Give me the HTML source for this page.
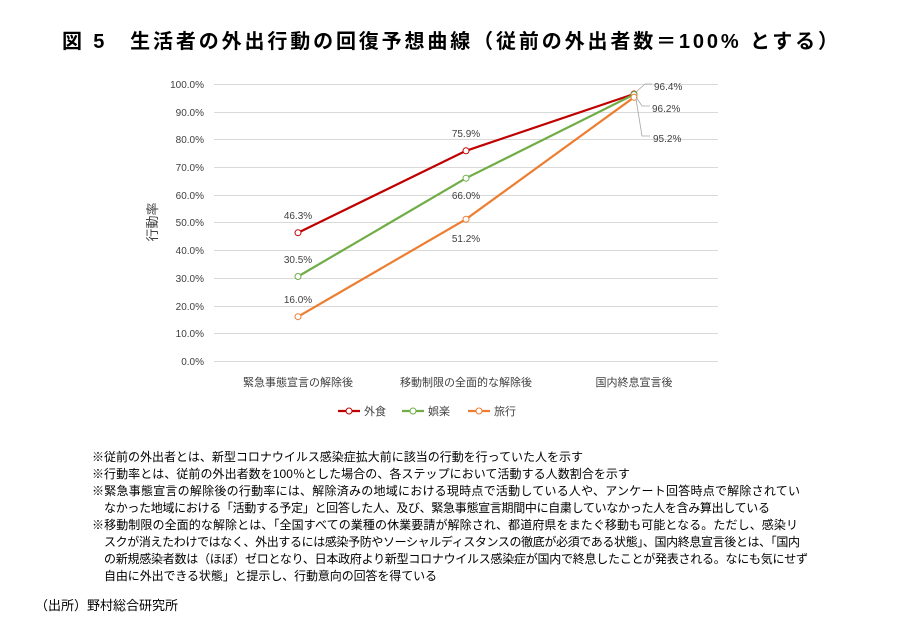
<!DOCTYPE html><html><head><meta charset="utf-8"><style>body{margin:0;background:#fff}svg{display:block}text{font-family:"Liberation Sans","Noto Sans CJK JP",sans-serif}</style></head><body>
<svg width="900" height="630" viewBox="0 0 900 630" xmlns="http://www.w3.org/2000/svg">
<text x="62" y="48" font-size="20" font-weight="bold" textLength="776" fill="#000">図 5　生活者の外出行動の回復予想曲線（従前の外出者数＝100% とする）</text>
<g stroke="#d9d9d9" stroke-width="1">
<line x1="214" x2="718" y1="84.5" y2="84.5"/><line x1="214" x2="718" y1="112.5" y2="112.5"/><line x1="214" x2="718" y1="139.5" y2="139.5"/><line x1="214" x2="718" y1="167.5" y2="167.5"/><line x1="214" x2="718" y1="195.5" y2="195.5"/><line x1="214" x2="718" y1="222.5" y2="222.5"/><line x1="214" x2="718" y1="250.5" y2="250.5"/><line x1="214" x2="718" y1="278.5" y2="278.5"/><line x1="214" x2="718" y1="306.5" y2="306.5"/><line x1="214" x2="718" y1="333.5" y2="333.5"/><line x1="214" x2="718" y1="361.5" y2="361.5"/>
</g>
<g font-size="10" fill="#404040" text-anchor="end">
<text x="204" y="88">100.0%</text><text x="204" y="116">90.0%</text><text x="204" y="143">80.0%</text><text x="204" y="171">70.0%</text><text x="204" y="199">60.0%</text><text x="204" y="226">50.0%</text><text x="204" y="254">40.0%</text><text x="204" y="282">30.0%</text><text x="204" y="310">20.0%</text><text x="204" y="337">10.0%</text><text x="204" y="365">0.0%</text>
</g>
<text transform="translate(157,222) rotate(-90)" font-size="13" text-anchor="middle" fill="#404040">行動率</text>
<g font-size="11" fill="#404040" text-anchor="middle">
<text x="298" y="386">緊急事態宣言の解除後</text><text x="466" y="386">移動制限の全面的な解除後</text><text x="634" y="386">国内終息宣言後</text>
</g>
<g fill="none" stroke-width="2.2">
<polyline stroke="#c00000" points="298,232.7 466,150.8 634,94"/>
<polyline stroke="#70ad47" points="298,276.5 466,178.2 634,94.5"/>
<polyline stroke="#ed7d31" points="298,316.7 466,219.2 634,97.3"/>
</g>
<g fill="#fff" stroke-width="1">
<circle cx="298" cy="232.7" r="3" stroke="#c00000"/><circle cx="466" cy="150.8" r="3" stroke="#c00000"/><circle cx="634" cy="94" r="3" stroke="#c00000"/>
<circle cx="298" cy="276.5" r="3" stroke="#70ad47"/><circle cx="466" cy="178.2" r="3" stroke="#70ad47"/><circle cx="634" cy="94.5" r="3" stroke="#70ad47"/>
<circle cx="298" cy="316.7" r="3" stroke="#ed7d31"/><circle cx="466" cy="219.2" r="3" stroke="#ed7d31"/><circle cx="634" cy="97.3" r="3" stroke="#ed7d31"/>
</g>
<g stroke="#a6a6a6" fill="none" stroke-width="0.8">
<polyline points="636,92 645,84 652,84"/><polyline points="636,97 642,106 650,106"/><polyline points="636,99 642,136 650,136"/>
</g>
<g font-size="10" fill="#404040" text-anchor="middle">
<text x="298" y="219">46.3%</text><text x="298" y="263">30.5%</text><text x="298" y="303">16.0%</text>
<text x="466" y="137">75.9%</text><text x="466" y="199">66.0%</text><text x="466" y="242">51.2%</text>
</g>
<g font-size="10" fill="#404040">
<text x="654" y="90">96.4%</text><text x="652" y="112">96.2%</text><text x="653" y="142">95.2%</text>
</g>
<g stroke-width="2.2"><line x1="338" x2="360" y1="411" y2="411" stroke="#c00000"/><line x1="402" x2="424" y1="411" y2="411" stroke="#70ad47"/><line x1="468" x2="490" y1="411" y2="411" stroke="#ed7d31"/></g>
<g fill="#fff"><circle cx="349" cy="411" r="3" stroke="#c00000"/><circle cx="413" cy="411" r="3" stroke="#70ad47"/><circle cx="479" cy="411" r="3" stroke="#ed7d31"/></g>
<g font-size="11" fill="#404040"><text x="364" y="415">外食</text><text x="428" y="415">娯楽</text><text x="494" y="415">旅行</text></g>
<g font-size="12" fill="#000">
<text x="92" y="461" textLength="491">※従前の外出者とは、新型コロナウイルス感染症拡大前に該当の行動を行っていた人を示す</text>
<text x="92" y="478" textLength="538">※行動率とは、従前の外出者数を100％とした場合の、各ステップにおいて活動する人数割合を示す</text>
<text x="92" y="495" textLength="708">※緊急事態宣言の解除後の行動率には、解除済みの地域における現時点で活動している人や、アンケート回答時点で解除されてい</text>
<text x="104" y="512" textLength="666">なかった地域における「活動する予定」と回答した人、及び、緊急事態宣言期間中に自粛していなかった人を含み算出している</text>
<text x="92" y="529" textLength="706">※移動制限の全面的な解除とは、「全国すべての業種の休業要請が解除され、都道府県をまたぐ移動も可能となる。ただし、感染リ</text>
<text x="104" y="546" textLength="696">スクが消えたわけではなく、外出するには感染予防やソーシャルディスタンスの徹底が必須である状態」、国内終息宣言後とは、「国内</text>
<text x="104" y="563" textLength="704">の新規感染者数は（ほぼ）ゼロとなり、日本政府より新型コロナウイルス感染症が国内で終息したことが発表される。なにも気にせず</text>
<text x="104" y="580" textLength="333">自由に外出できる状態」と提示し、行動意向の回答を得ている</text>
</g>
<text x="35" y="610" font-size="13" fill="#000">（出所）野村総合研究所</text>
</svg>
</body></html>
